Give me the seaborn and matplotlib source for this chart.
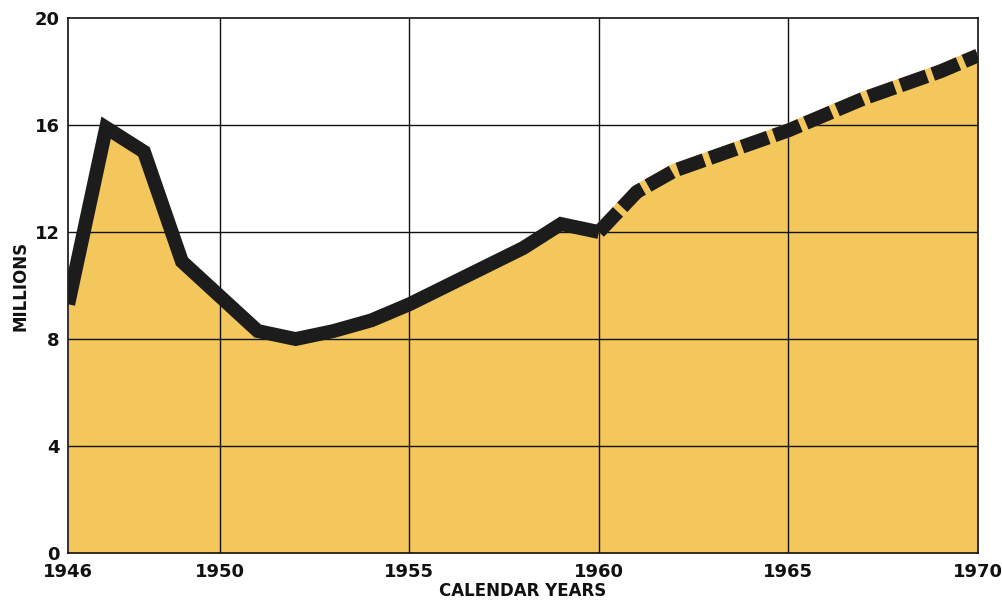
import matplotlib
matplotlib.use("Agg")
import matplotlib.pyplot as plt
import seaborn as sns
import pandas as pd

sns.set_theme(style="white")
plt.rcParams['font.family'] = ['DejaVu Sans']

years_actual = [1946, 1947, 1948, 1949, 1950, 1951, 1952, 1953, 1954, 1955, 1956, 1957, 1958, 1959, 1960]
values_actual = [9.3, 15.9, 15.0, 10.9, 9.6, 8.3, 8.0, 8.3, 8.7, 9.3, 10.0, 10.7, 11.4, 12.3, 12.0]
years_proj = [1960, 1961, 1962, 1963, 1964, 1965, 1966, 1967, 1968, 1969, 1970]
values_proj = [12.0, 13.5, 14.3, 14.8, 15.3, 15.8, 16.4, 17.0, 17.5, 18.0, 18.6]
x_ticks = [1946, 1950, 1955, 1960, 1965, 1970]
y_ticks = [0, 4, 8, 12, 16, 20]

fill_color = "#F4C75C"
line_color = "#1c1c1c"

df_a = pd.DataFrame({"year": years_actual, "value": values_actual})
df_p = pd.DataFrame({"year": years_proj, "value": values_proj})

fig = plt.figure(figsize=(10.03, 6.10), dpi=100)
ax = fig.add_axes([0.068, 0.0934, 0.907, 0.877])

all_years = years_actual + years_proj[1:]
all_vals = values_actual + values_proj[1:]
ax.fill_between(all_years, 0, all_vals, color=fill_color, lw=0, zorder=1)

for y in y_ticks[1:-1]:
    ax.axhline(y, color="#111111", lw=1.0, zorder=2)
for x in x_ticks[1:-1]:
    ax.axvline(x, color="#111111", lw=1.0, zorder=2)

sns.lineplot(data=df_a, x="year", y="value", ax=ax, color=line_color, lw=10,
             solid_joinstyle="miter", solid_capstyle="butt", zorder=4)
sns.lineplot(data=df_p, x="year", y="value", ax=ax, color=fill_color, lw=10,
             solid_capstyle="butt", zorder=3)
sns.lineplot(data=df_p, x="year", y="value", ax=ax, color=line_color, lw=10,
             dashes=False, zorder=5)
ax.lines[-1].set_linestyle((0, (2.0, 0.45)))
ax.lines[-1].set_dash_capstyle("butt")

ax.set_xlim(1946, 1970)
ax.set_ylim(0, 20)
ax.set_xticks(x_ticks)
ax.set_yticks(y_ticks)
ax.tick_params(axis="both", length=0, labelsize=13, colors="#111111")
ax.tick_params(axis="x", pad=7)
ax.tick_params(axis="y", pad=6)
for lab in ax.get_xticklabels() + ax.get_yticklabels():
    lab.set_fontweight("bold")
ax.set_xlabel("CALENDAR YEARS", fontsize=12, fontweight="bold", color="#111111", labelpad=1)
ax.set_ylabel("MILLIONS", fontsize=12, fontweight="bold", color="#111111", labelpad=4)
for s in ax.spines.values():
    s.set_visible(True)
    s.set_color("#111111")
    s.set_linewidth(1.2)

fig.savefig("out.png", dpi=100)
